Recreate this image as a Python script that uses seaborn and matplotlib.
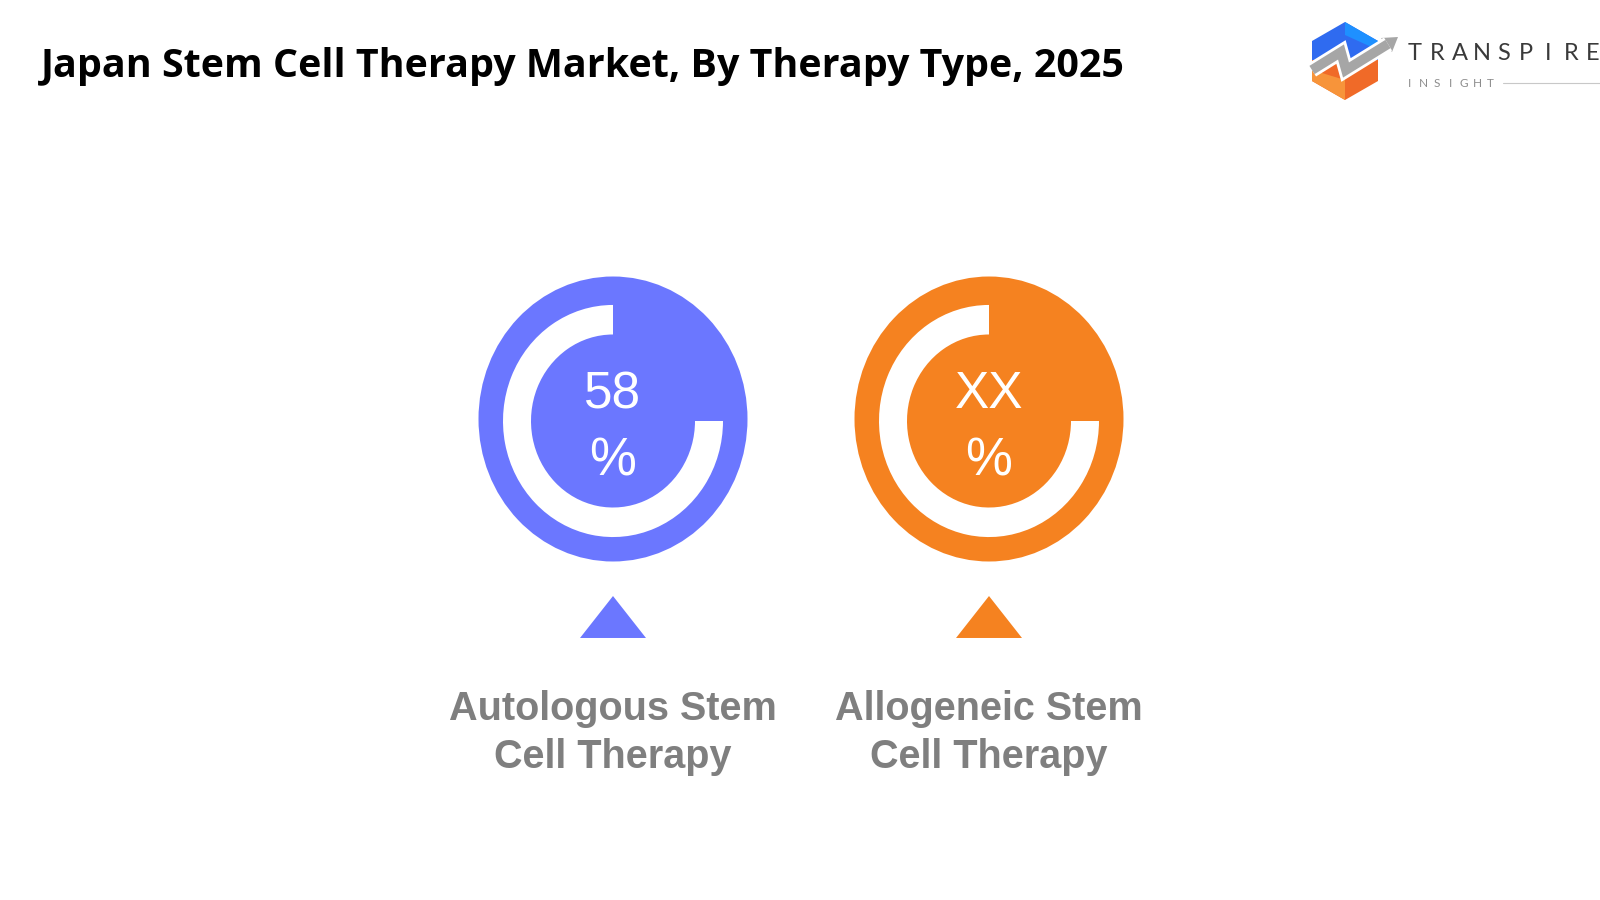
import matplotlib
matplotlib.use("Agg")
import numpy as np
import pandas as pd
import matplotlib.pyplot as plt
import seaborn as sns
from matplotlib.patches import Ellipse, Wedge, Polygon
from matplotlib.path import Path
from matplotlib.markers import MarkerStyle
from matplotlib.transforms import Affine2D

# ---------------- data ----------------
title = "Japan Stem Cell Therapy Market, By Therapy Type, 2025"
categories = ["Autologous Stem\nCell Therapy", "Allogeneic Stem\nCell Therapy"]
share_labels = ["58", "XX"]
colors = ["#6B77FF", "#F58220"]
ring_fraction = 0.75  # decorative white arc span (fraction of circle)

# ---------------- style ----------------
sns.set_theme(style="white")
plt.rcParams["font.family"] = ["Liberation Sans", "DejaVu Sans"]

W, H = 1600, 900
fig = plt.figure(figsize=(16, 9), dpi=100)
fig.patch.set_facecolor("white")

# main axes: category i sits at x=i ; one unit = 376 px
unit = 376.0
cx0, cy0 = 613.0, 419.0
ax = fig.add_axes([0, 0, 1, 1])

df = pd.DataFrame({"category": categories, "label": share_labels, "color": colors})
df["x"] = np.arange(len(df))

circ_rx, circ_ry = 134.5 / unit, 142.5 / unit
ring_r, ring_w, ring_sy = 110 / unit, 28 / unit, 1.055

for _, row in df.iterrows():
    ax.add_patch(Ellipse((row.x, 0), 2 * circ_rx, 2 * circ_ry, facecolor=row.color,
                         edgecolor="none", zorder=1))
    wedge = Wedge((0, 0), ring_r, 90, 90 + 360 * ring_fraction, width=ring_w,
                  facecolor="white", edgecolor="none", zorder=2)
    wedge.set_transform(Affine2D().scale(1, ring_sy).translate(row.x, -2 / unit) + ax.transData)
    ax.add_patch(wedge)
    ax.text(row.x, (cy0 - 395) / unit, row.label, color="white", fontsize=37,
            ha="center", va="center", zorder=3)
    ax.text(row.x, (cy0 - 462) / unit, "%", color="white", fontsize=38,
            ha="center", va="center", zorder=3)
    ax.text(row.x, (cy0 - 733) / unit, row.category, color="#7F7F7F", fontsize=28.5,
            fontweight="bold", ha="center", va="center", multialignment="center",
            linespacing=1.3, zorder=3)

# triangles via seaborn scatter (flattened triangle marker)
tri = Path([(-1, -0.636), (1, -0.636), (0, 0.636), (-1, -0.636)],
           [Path.MOVETO, Path.LINETO, Path.LINETO, Path.CLOSEPOLY])
df["ty"] = (cy0 - 617) / unit
sns.scatterplot(data=df, x="x", y="ty", hue="category", palette=colors,
                marker=MarkerStyle(tri), s=47.5 ** 2, linewidth=0, legend=False,
                ax=ax, zorder=3)
ax.set_xlim(-cx0 / unit, (W - cx0) / unit)
ax.set_ylim(-(H - cy0) / unit, cy0 / unit)
ax.set_axis_off()

# ---------------- title ----------------
t = fig.text(41 / W, 1 - 67 / H, title, fontsize=29, fontweight="bold",
             family=["Open Sans", "DejaVu Sans"], color="black", ha="left", va="center")
fig.canvas.draw()
r = fig.canvas.get_renderer()
wpx = t.get_window_extent(r).width
t.set_fontsize(29 * 1081 / wpx)

# ---------------- logo (pixel coordinates) ----------------
lg = fig.add_axes([0, 0, 1, 1], zorder=5)
lg.set_xlim(0, W)
lg.set_ylim(H, 0)
lg.set_axis_off()
lg.patch.set_alpha(0)

blue_poly = [(1345, 22), (1378, 41), (1378, 62), (1312, 62), (1312, 41)]
orange_poly = [(1312, 60), (1378, 60), (1378, 81), (1345, 100), (1312, 81)]
lg.add_patch(Polygon(blue_poly, closed=True, facecolor="#2F6BF0", edgecolor="none"))
lg.add_patch(Polygon([(1345, 22), (1378, 41), (1378, 50), (1345, 35)], closed=True,
                     facecolor="#1E90FF", edgecolor="none"))
lg.add_patch(Polygon(orange_poly, closed=True, facecolor="#F06A28", edgecolor="none"))
lg.add_patch(Polygon([(1312, 81), (1345, 100), (1345, 80), (1312, 70)], closed=True,
                     facecolor="#F7943A", edgecolor="none"))
zig_x = [1312, 1341, 1346, 1388]
zig_y = [70, 52, 70, 44]
lg.plot(zig_x, zig_y, color="white", lw=11, solid_capstyle="butt", solid_joinstyle="miter")
lg.plot(zig_x, zig_y, color="#A6A6A6", lw=7, solid_capstyle="butt", solid_joinstyle="miter")
lg.add_patch(Polygon([(1381, 38), (1398, 37), (1392, 52)], closed=True,
                     facecolor="#A6A6A6", edgecolor="none"))

for k, ch in enumerate("TRANSPIRE"):
    lg.text(1415 + k * 22.25, 54, ch, fontsize=17, color="#3A3A3A", ha="center", va="center",
            family=["Lato", "DejaVu Sans"])
for k, ch in enumerate("INSIGHT"):
    lg.text(1409.5 + k * 13.5, 83.5, ch, fontsize=8.5, color="#8C8C8C", ha="center", va="center",
            family=["Lato", "DejaVu Sans"])
lg.plot([1503, 1600], [83, 83], color="#C8C8C8", lw=0.8)

fig.savefig("out.png", dpi=100, facecolor="white")
